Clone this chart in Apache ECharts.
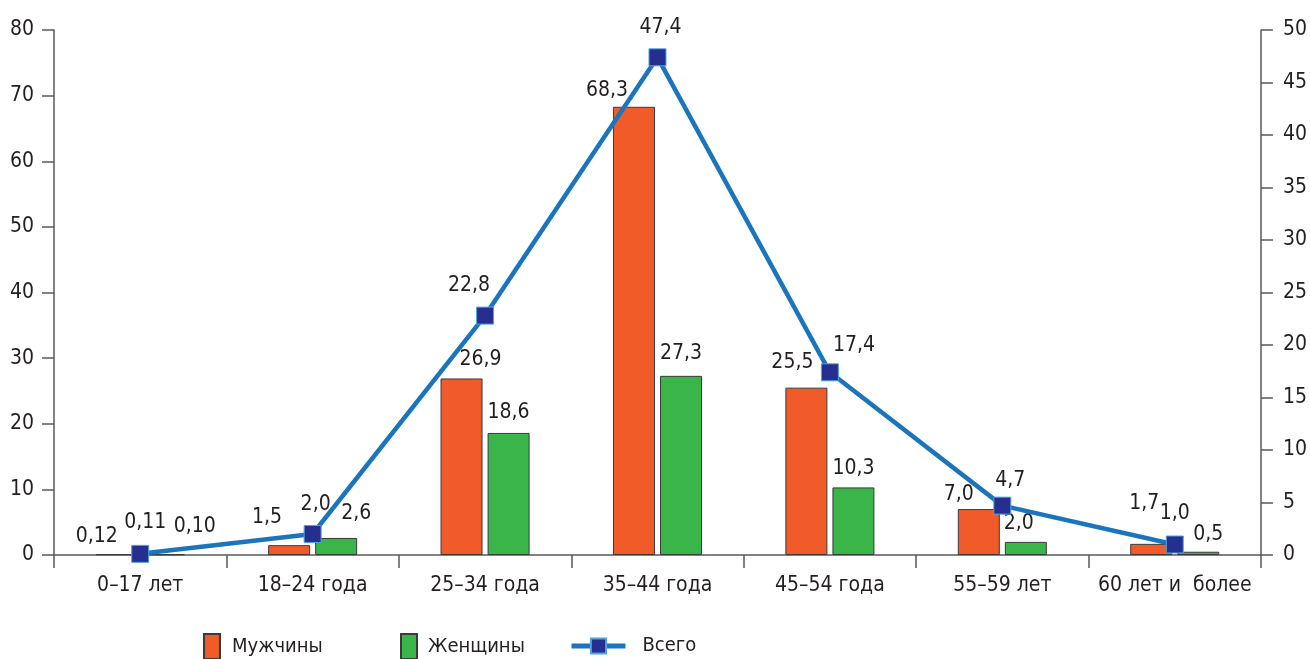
<!DOCTYPE html>
<html>
<head>
<meta charset="utf-8">
<script src="https://cdn.jsdelivr.net/npm/echarts@6/dist/echarts.min.js"></script>
<style>
  html, body { margin: 0; padding: 0; background: #fff; }
  #chart { width: 1310px; height: 659px; }
</style>
</head>
<body>
<div id="chart"></div>
<script>
// Age groups along the category axis
const categories = ['0–17 лет', '18–24 года', '25–34 года', '35–44 года', '45–54 года', '55–59 лет', '60 лет и  более'];

// Series values (left axis for bars, right axis for the total line)
const men   = [0.12, 1.5, 26.9, 68.3, 25.5, 7.0, 1.7];
const women = [0.10, 2.6, 18.6, 27.3, 10.3, 2.0, 0.5];
const total = [0.11, 2.0, 22.8, 47.4, 17.4, 4.7, 1.0];

// Value label texts (comma decimal separator)
const menText   = ['0,12', '1,5', '26,9', '68,3', '25,5', '7,0', '1,7'];
const womenText = ['0,10', '2,6', '18,6', '27,3', '10,3', '2,0', '0,5'];
const totalText = ['0,11', '2,0', '22,8', '47,4', '17,4', '4,7', '1,0'];

// Label nudges so labels don't collide with neighbouring marks
const menOffset   = [[-20, -9], [-22, -19], [19, -10], [-27, -7], [-14, -16], [-20, -6], [-7, -31]];
const womenOffset = [[31, -19], [20, -15], [0, -11], [0, -13], [0, -10], [-7, -9], [10, -8]];
const totalOffset = [[5, -31], [3, -29], [-16, -30], [3, -30], [24, -27], [8, -25], [0, -31]];

const FONT = "'Liberation Sans Narrow', 'DejaVu Sans Condensed', 'Roboto Condensed', Roboto, sans-serif";
const TEXT = '#231f20';
const AXIS = '#58595b';

const labelBase = { fontFamily: FONT, fontSize: 21, color: TEXT, lineHeight: 18 };

function barData(vals, texts, offs) {
  return vals.map((v, i) => ({
    value: v,
    label: { show: true, position: 'top', distance: 0, offset: offs[i], formatter: texts[i], ...labelBase }
  }));
}

function lineData(vals, texts, offs) {
  return vals.map((v, i) => ({
    value: v,
    label: { show: true, position: 'inside', offset: offs[i], formatter: texts[i], ...labelBase }
  }));
}

const chart = echarts.init(document.getElementById('chart'), null, { renderer: 'canvas' });

const valueAxisCommon = {
  type: 'value',
  axisLine: { show: true, lineStyle: { color: AXIS, width: 1.5 } },
  axisTick: { show: true, length: 12, lineStyle: { color: AXIS, width: 1.5 } },
  splitLine: { show: false },
  axisLabel: { fontFamily: FONT, fontSize: 21, color: TEXT }
};

const legendText = { fontFamily: FONT, fontSize: 20, color: TEXT };

chart.setOption({
  animation: false,
  backgroundColor: '#ffffff',
  grid: { left: 54, right: 48, top: 30, bottom: 104, containLabel: false },
  legend: [
    {
      data: [{ name: 'Мужчины', icon: 'rect' }], left: 203, top: 633, padding: 0,
      itemWidth: 16, itemHeight: 25, itemGap: 0,
      textStyle: { ...legendText, padding: [0, 0, 0, 7] }
    },
    {
      data: [{ name: 'Женщины', icon: 'rect' }], left: 400, top: 633, padding: 0,
      itemWidth: 16, itemHeight: 25, itemGap: 0,
      textStyle: { ...legendText, padding: [0, 0, 0, 6] }
    },
    {
      data: ['Всего'], left: 569, top: 636, padding: 0,
      itemWidth: 54, itemHeight: 19, itemGap: 0,
      lineStyle: { width: 5 },
      textStyle: { ...legendText, padding: [0, 0, 0, 12] }
    }
  ],
  xAxis: {
    type: 'category',
    data: categories,
    boundaryGap: true,
    axisLine: { show: true, lineStyle: { color: AXIS, width: 1.5 } },
    axisTick: { show: true, length: 13, alignWithLabel: false, lineStyle: { color: AXIS, width: 1.5 } },
    axisLabel: { fontFamily: FONT, fontSize: 21, color: TEXT, margin: 20, interval: 0 }
  },
  yAxis: [
    { ...valueAxisCommon, position: 'left', min: 0, max: 80, interval: 10,
      axisLabel: { ...valueAxisCommon.axisLabel, margin: 20 } },
    { ...valueAxisCommon, position: 'right', min: 0, max: 50, interval: 5,
      axisLabel: { ...valueAxisCommon.axisLabel, margin: 22 } }
  ],
  series: [
    {
      name: 'Мужчины',
      type: 'bar',
      yAxisIndex: 0,
      barWidth: 42,
      barGap: '12%',
      itemStyle: { color: '#f15a29', borderColor: '#3a3a3a', borderWidth: 1 },
      data: barData(men, menText, menOffset)
    },
    {
      name: 'Женщины',
      type: 'bar',
      yAxisIndex: 0,
      barWidth: 42,
      barGap: '12%',
      itemStyle: { color: '#39b54a', borderColor: '#3a3a3a', borderWidth: 1 },
      data: barData(women, womenText, womenOffset)
    },
    {
      name: 'Всего',
      type: 'line',
      yAxisIndex: 1,
      symbol: 'rect',
      symbolSize: 17,
      lineStyle: { color: '#1b75bc', width: 4.5 },
      itemStyle: { color: '#262f8f', borderColor: '#4ea6dc', borderWidth: 1 },
      z: 5,
      data: lineData(total, totalText, totalOffset)
    }
  ]
});
</script>
</body>
</html>
